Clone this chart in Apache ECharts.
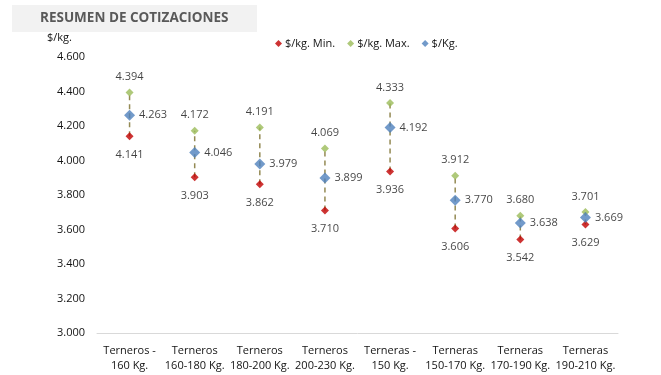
<!DOCTYPE html>
<html>
<head>
<meta charset="utf-8">
<script src="https://cdn.jsdelivr.net/npm/echarts@6/dist/echarts.min.js"></script>
<style>
  html, body { margin: 0; padding: 0; background: #fff; }
  #chart { width: 661px; height: 375px; }
</style>
</head>
<body>
<div id="chart"></div>
<script>
// datos
var categorias = ['Terneros -\n160 Kg.', 'Terneros\n160-180 Kg.', 'Terneros\n180-200 Kg.', 'Terneros\n200-230 Kg.',
    'Terneras -\n150 Kg.', 'Terneras\n150-170 Kg.', 'Terneras\n170-190 Kg.', 'Terneras\n190-210 Kg.'];
var minimos = [4.141, 3.903, 3.862, 3.710, 3.936, 3.606, 3.542, 3.629];
var maximos = [4.394, 4.172, 4.191, 4.069, 4.333, 3.912, 3.680, 3.701];
var promedios = [4.263, 4.046, 3.979, 3.899, 4.192, 3.770, 3.638, 3.669];
var ticksY = [3.0, 3.2, 3.4, 3.6, 3.8, 4.0, 4.2, 4.4, 4.6];

var fuente = '"Open Sans", "Noto Sans", sans-serif';
var colorTexto = '#141414';
var fmt = function (v) { return v.toFixed(3); };

var rangos = minimos.map(function (m, i) { return [i, m, maximos[i]]; });

var chart = echarts.init(document.getElementById('chart'));
chart.setOption({
    animation: false,
    textStyle: { fontFamily: fuente },
    graphic: [
        {
            type: 'rect',
            shape: { x: 12, y: 5, width: 245, height: 27 },
            style: { fill: '#f2f2f2' }
        },
        {
            type: 'text',
            left: 40, top: 11,
            style: {
                text: 'RESUMEN DE COTIZACIONES',
                font: 'bold 13.5px ' + fuente,
                fill: '#595959'
            }
        },
        {
            type: 'text',
            left: 47, top: 32,
            style: { text: '$/kg.', font: '11px ' + fuente, fill: colorTexto }
        }
    ],
    legend: {
        left: 270, top: 33,
        itemWidth: 7, itemHeight: 7, itemGap: 12,
        textStyle: { fontSize: 11, color: colorTexto, padding: [0, 0, 0, -2] },
        data: [
            { name: '$/kg. Min.', icon: 'diamond' },
            { name: '$/kg. Max.', icon: 'diamond' },
            { name: '$/Kg.', icon: 'diamond' }
        ]
    },
    grid: { left: 97, right: 43, top: 57, bottom: 42 },
    xAxis: {
        type: 'category',
        data: categorias,
        axisLine: { lineStyle: { color: '#d9d9d9', width: 1 } },
        axisTick: { show: false },
        axisLabel: { fontSize: 11, color: colorTexto, lineHeight: 15, margin: 10, interval: 0 }
    },
    yAxis: {
        type: 'value',
        min: 3.0, max: 4.6, interval: 0.2,
        axisLine: { show: false },
        axisTick: { show: false },
        splitLine: { show: false },
        axisLabel: {
            fontSize: 11, color: colorTexto, margin: 12,
            formatter: function (v) {
                var t = ticksY.filter(function (x) { return Math.abs(x - v) < 1e-6; });
                return t.length ? fmt(t[0]) : '';
            }
        }
    },
    series: [
        {
            type: 'custom',
            name: 'rango',
            data: rangos,
            z: 1,
            renderItem: function (params, api) {
                var p1 = api.coord([api.value(0), api.value(1)]);
                var p2 = api.coord([api.value(0), api.value(2)]);
                return {
                    type: 'line',
                    shape: { x1: p1[0], y1: p1[1], x2: p2[0], y2: p2[1] },
                    style: { stroke: '#948a54', lineWidth: 1.5, lineDash: [5, 4] }
                };
            }
        },
        {
            name: '$/kg. Min.',
            type: 'scatter',
            symbol: 'diamond',
            symbolSize: 8,
            z: 3,
            itemStyle: { color: '#c00000' },
            label: {
                show: true, position: 'bottom', distance: 9,
                fontSize: 11, color: colorTexto,
                formatter: function (p) { return fmt(p.value); }
            },
            data: minimos
        },
        {
            name: '$/kg. Max.',
            type: 'scatter',
            symbol: 'diamond',
            symbolSize: 8,
            z: 3,
            itemStyle: { color: '#9bbb59' },
            label: {
                show: true, position: 'top', distance: 6,
                fontSize: 11, color: colorTexto,
                formatter: function (p) { return fmt(p.value); }
            },
            data: maximos
        },
        {
            name: '$/Kg.',
            type: 'scatter',
            symbol: 'diamond',
            symbolSize: 11,
            z: 4,
            itemStyle: { color: '#4f81bd' },
            label: {
                show: true, position: 'right', distance: 4,
                fontSize: 11, color: colorTexto,
                formatter: function (p) { return fmt(p.value); }
            },
            data: promedios
        }
    ]
});
</script>
</body>
</html>
